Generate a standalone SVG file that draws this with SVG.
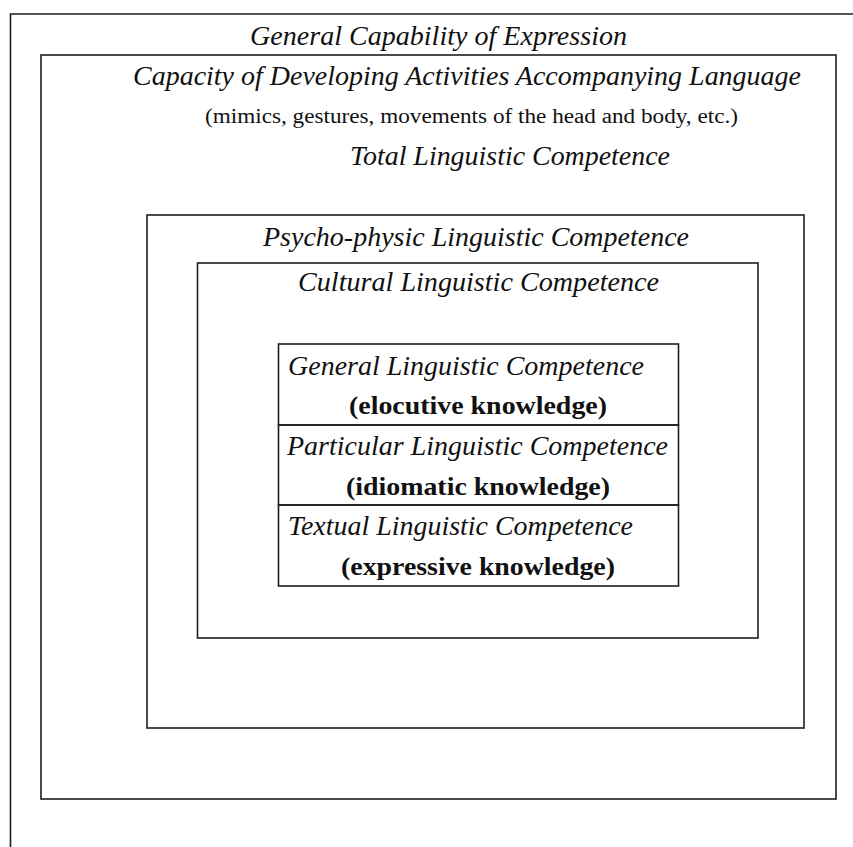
<svg xmlns="http://www.w3.org/2000/svg" width="853" height="847" viewBox="0 0 853 847">
  <style>
    .frame { fill: none; stroke: #1e1e1e; stroke-width: 1.6; }
    .title { font-family: "Liberation Serif", "Times New Roman", serif; font-style: italic; font-size: 27px; fill: #111; }
    .note { font-family: "Liberation Serif", "Times New Roman", serif; font-size: 20px; fill: #111; }
    .know { font-family: "Liberation Serif", "Times New Roman", serif; font-weight: bold; font-size: 25px; fill: #111; }
  </style>
  <rect width="853" height="847" fill="#ffffff"/>

  <!-- open outer frame: top and left edges only -->
  <g id="expression">
    <path class="frame" d="M10.5 847 V14 H853"/>
    <text class="title" x="250" y="45" textLength="377" lengthAdjust="spacingAndGlyphs">General Capability of Expression</text>
  </g>

  <g id="accompanying">
    <rect class="frame" x="41" y="55" width="795" height="744"/>
    <text class="title" x="133" y="85" textLength="668" lengthAdjust="spacingAndGlyphs">Capacity of Developing Activities Accompanying Language</text>
    <text class="note" x="205" y="123" textLength="533" lengthAdjust="spacingAndGlyphs">(mimics, gestures, movements of the head and body, etc.)</text>
    <text class="title" x="350" y="165" textLength="320" lengthAdjust="spacingAndGlyphs">Total Linguistic Competence</text>
  </g>

  <g id="psychophysic">
    <rect class="frame" x="147" y="215" width="657" height="513"/>
    <text class="title" x="263" y="246" textLength="426" lengthAdjust="spacingAndGlyphs">Psycho-physic Linguistic Competence</text>
  </g>

  <g id="cultural">
    <rect class="frame" x="197.5" y="263" width="560.5" height="375"/>
    <text class="title" x="298" y="291" textLength="361" lengthAdjust="spacingAndGlyphs">Cultural Linguistic Competence</text>
  </g>

  <!-- three stacked levels of linguistic knowledge -->
  <g id="general">
    <rect class="frame" x="278.5" y="344" width="400" height="81"/>
    <text class="title" x="288" y="375" textLength="356" lengthAdjust="spacingAndGlyphs">General Linguistic Competence</text>
    <text class="know" x="349" y="414" textLength="258" lengthAdjust="spacingAndGlyphs">(elocutive knowledge)</text>
  </g>

  <g id="particular">
    <rect class="frame" x="278.5" y="425" width="400" height="80"/>
    <text class="title" x="287" y="455" textLength="381" lengthAdjust="spacingAndGlyphs">Particular Linguistic Competence</text>
    <text class="know" x="346" y="495" textLength="264" lengthAdjust="spacingAndGlyphs">(idiomatic knowledge)</text>
  </g>

  <g id="textual">
    <rect class="frame" x="278.5" y="505" width="400" height="81"/>
    <text class="title" x="288" y="535" textLength="345" lengthAdjust="spacingAndGlyphs">Textual Linguistic Competence</text>
    <text class="know" x="341" y="575" textLength="274" lengthAdjust="spacingAndGlyphs">(expressive knowledge)</text>
  </g>

  <g id="connectors"></g>
</svg>
